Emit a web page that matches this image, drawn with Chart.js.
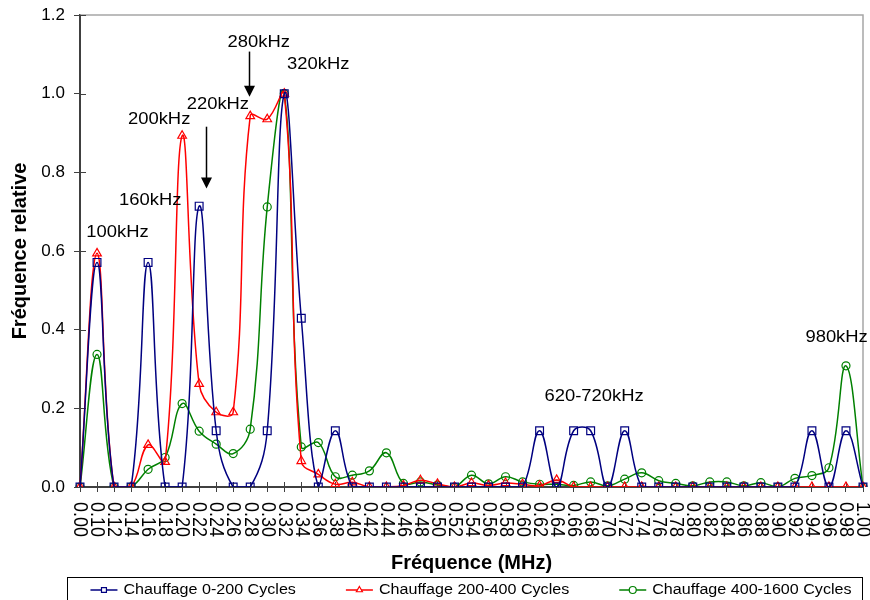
<!DOCTYPE html>
<html>
<head>
  <meta charset="utf-8">
  <title>Fréquence relative</title>
  <script src="https://cdn.jsdelivr.net/npm/chart.js"></script>
  <style>
    body { margin: 0; background: #fff; }
  </style>
</head>
<body>
  <canvas id="freqChart" width="870" height="600"></canvas>

  <script>
    // Fréquences (MHz) en abscisse
    var freqLabels = ["0.00", "0.10", "0.12", "0.14", "0.16", "0.18", "0.20", "0.22", "0.24", "0.26",
      "0.28", "0.30", "0.32", "0.34", "0.36", "0.38", "0.40", "0.42", "0.44", "0.46",
      "0.48", "0.50", "0.52", "0.54", "0.56", "0.58", "0.60", "0.62", "0.64", "0.66",
      "0.68", "0.70", "0.72", "0.74", "0.76", "0.78", "0.80", "0.82", "0.84", "0.86",
      "0.88", "0.90", "0.92", "0.94", "0.96", "0.98", "1.00"];

    var seriesNames = ["Chauffage 0-200 Cycles", "Chauffage 200-400 Cycles", "Chauffage 400-1600 Cycles"];

    var cycles0_200 = [0, 0.571, 0, 0, 0.571, 0, 0, 0.714, 0.143, 0,
      0, 0.143, 1.0, 0.429, 0, 0.143, 0, 0, 0, 0,
      0, 0, 0, 0, 0, 0, 0, 0.143, 0, 0.143,
      0.143, 0, 0.143, 0, 0, 0, 0, 0, 0, 0,
      0, 0, 0, 0.143, 0, 0.143, 0];

    var cycles200_400 = [0, 0.594, 0, 0, 0.107, 0.064, 0.893, 0.262, 0.19, 0.19,
      0.943, 0.935, 1.0, 0.066, 0.032, 0.007, 0.012, 0, 0, 0.004,
      0.017, 0.008, 0, 0.01, 0.004, 0.01, 0.007, 0.003, 0.018, 0,
      0, 0, 0, 0, 0, 0, 0, 0, 0, 0,
      0, 0, 0, 0, 0, 0, 0];

    var cycles400_1600 = [0, 0.337, 0, 0, 0.045, 0.075, 0.212, 0.142, 0.109, 0.085,
      0.147, 0.712, 1.0, 0.102, 0.113, 0.026, 0.030, 0.041, 0.087, 0.009,
      0.013, 0.005, 0, 0.030, 0.008, 0.026, 0.013, 0.007, 0.007, 0.004,
      0.013, 0.003, 0.020, 0.036, 0.016, 0.009, 0.003, 0.013, 0.013, 0.003,
      0.011, 0, 0.022, 0.029, 0.049, 0.308, 0];

    // Repères des pics : texte, indice de catégorie, valeur
    var noteTexts = ["100kHz", "160kHz", "200kHz", "220kHz", "280kHz", "320kHz", "620-720kHz", "980kHz"];
    var noteIdx = [2.2, 4.13, 4.65, 8.1, 10.5, 14.0, 30.2, 44.45];
    var noteVal = [0.647, 0.727, 0.935, 0.971, 1.131, 1.073, 0.231, 0.381];

    // Flèches verticales (indice, valeur de départ, valeur de la pointe)
    var arrowIdx = [7.43, 9.9];
    var arrowFrom = [0.916, 1.107];
    var arrowTo = [0.759, 0.992];

    var FONT = '"Liberation Sans", Arial, sans-serif';
    var STRETCH = 1.15;

    Chart.defaults.font.family = FONT;
    Chart.defaults.color = "#000";

    function wideText(ctx, text, x, y) {
      ctx.save();
      ctx.translate(x, y);
      ctx.scale(STRETCH, 1);
      ctx.fillText(text, 0, 0);
      ctx.restore();
    }

    var decorPlugin = {
      id: "decor",
      beforeDatasetsDraw: function(chart) {
        var ctx = chart.ctx, a = chart.chartArea;
        var xs = chart.scales.x, ys = chart.scales.y;
        ctx.save();
        // cadre gris haut / droite
        ctx.strokeStyle = "#a6a6a6";
        ctx.lineWidth = 1.5;
        ctx.beginPath();
        ctx.moveTo(a.left, a.top);
        ctx.lineTo(a.right, a.top);
        ctx.lineTo(a.right, a.bottom);
        ctx.stroke();
        // axes et graduations côté intérieur
        ctx.strokeStyle = "#404040";
        ctx.lineWidth = 2;
        ctx.beginPath();
        ctx.moveTo(a.left, a.top);
        ctx.lineTo(a.left, a.bottom);
        ctx.lineTo(a.right, a.bottom);
        ctx.stroke();
        ctx.lineWidth = 1;
        ctx.beginPath();
        for (var i = 0; i < freqLabels.length; i++) {
          var px = Math.round(xs.getPixelForValue(i)) + 0.5;
          ctx.moveTo(px, a.bottom);
          ctx.lineTo(px, a.bottom - 5);
        }
        ys.ticks.forEach(function(t) {
          var py = Math.round(ys.getPixelForValue(t.value)) + 0.5;
          ctx.moveTo(a.left, py);
          ctx.lineTo(a.left + 6, py);
        });
        ctx.stroke();
        ctx.restore();
      },
      afterDatasetsDraw: function(chart) {
        var ctx = chart.ctx;
        var xs = chart.scales.x, ys = chart.scales.y;
        ctx.save();
        ctx.fillStyle = "#000";
        ctx.font = "16px " + FONT;
        ctx.textAlign = "center";
        ctx.textBaseline = "middle";
        for (var i = 0; i < noteTexts.length; i++) {
          wideText(ctx, noteTexts[i], xs.getPixelForValue(noteIdx[i]), ys.getPixelForValue(noteVal[i]));
        }
        ctx.strokeStyle = "#000";
        ctx.lineWidth = 1.5;
        for (var k = 0; k < arrowIdx.length; k++) {
          var ax = Math.round(xs.getPixelForValue(arrowIdx[k])) + 0.5;
          var y0 = ys.getPixelForValue(arrowFrom[k]);
          var y1 = ys.getPixelForValue(arrowTo[k]);
          ctx.beginPath();
          ctx.moveTo(ax, y0);
          ctx.lineTo(ax, y1 - 8);
          ctx.stroke();
          ctx.beginPath();
          ctx.moveTo(ax - 5.5, y1 - 11);
          ctx.lineTo(ax + 5.5, y1 - 11);
          ctx.lineTo(ax, y1);
          ctx.closePath();
          ctx.fill();
        }
        ctx.restore();
      },
      afterDraw: function(chart) {
        var ctx = chart.ctx, a = chart.chartArea;
        var xs = chart.scales.x;
        ctx.save();
        // étiquettes de l'axe des fréquences, verticales
        ctx.fillStyle = "#000";
        ctx.font = "18px " + FONT;
        ctx.textAlign = "left";
        ctx.textBaseline = "middle";
        for (var i = 0; i < freqLabels.length; i++) {
          ctx.save();
          ctx.translate(xs.getPixelForValue(i), a.bottom + 15);
          ctx.scale(STRETCH, 1);
          ctx.rotate(Math.PI / 2);
          ctx.fillText(freqLabels[i], 0, 0);
          ctx.restore();
        }

        // légende encadrée
        ctx.font = "14px " + FONT;
        var sym = 27, gap = 6, sep = 50;
        var widths = seriesNames.map(function(n) { return ctx.measureText(n).width * STRETCH; });
        var total = sep * (widths.length - 1);
        widths.forEach(function(w) { total += sym + gap + w; });
        var lx = 471 - total / 2, ly = 590;
        ctx.strokeStyle = "#000";
        ctx.lineWidth = 1;
        ctx.strokeRect(67.5, 577.5, 795, 40);
        chart.data.datasets.forEach(function(ds, k) {
          ctx.strokeStyle = ds.borderColor;
          ctx.lineWidth = 1.5;
          ctx.beginPath();
          ctx.moveTo(lx, ly);
          ctx.lineTo(lx + sym, ly);
          ctx.stroke();
          ctx.fillStyle = "#fff";
          ctx.lineWidth = 1.2;
          if (Chart.helpers && Chart.helpers.drawPoint) {
            Chart.helpers.drawPoint(ctx, { pointStyle: ds.pointStyle, radius: 3.5, borderWidth: 1.2, rotation: 0 }, lx + sym / 2, ly);
          }
          ctx.fillStyle = "#000";
          ctx.textAlign = "left";
          ctx.textBaseline = "middle";
          wideText(ctx, seriesNames[k], lx + sym + gap, ly);
          lx += sym + gap + widths[k] + sep;
        });
        ctx.restore();
      }
    };

    var freqChart = new Chart("freqChart", {
      type: "line",
      data: {
        labels: freqLabels,
        datasets: [{
          label: seriesNames[0],
          data: cycles0_200,
          borderColor: "#000080",
          pointBorderColor: "#000080",
          pointStyle: "rect",
          pointRadius: 5.5
        }, {
          label: seriesNames[1],
          data: cycles200_400,
          borderColor: "#ff0000",
          pointBorderColor: "#ff0000",
          pointStyle: "triangle",
          pointRadius: 5
        }, {
          label: seriesNames[2],
          data: cycles400_1600,
          borderColor: "#008000",
          pointBorderColor: "#008000",
          pointStyle: "circle",
          pointRadius: 4
        }]
      },
      options: {
        responsive: false,
        animation: false,
        events: [],
        layout: { padding: { top: 15, right: 7, left: 0, bottom: 0 } },
        elements: {
          line: { tension: 0.4, borderWidth: 1.5, fill: false },
          point: { borderWidth: 1.2, backgroundColor: "rgba(0,0,0,0)" }
        },
        plugins: {
          legend: { display: false },
          tooltip: { enabled: false }
        },
        scales: {
          x: {
            type: "category",
            offset: false,
            grid: { drawOnChartArea: false, color: "#404040", tickLength: 5 },
            border: { color: "#404040", width: 2 },
            ticks: { display: false },
            title: {
              display: true,
              text: "Fréquence (MHz)",
              font: { size: 20, weight: "bold" },
              padding: { top: 0, bottom: 25 }
            },
            afterFit: function(scale) { scale.height = 113; }
          },
          y: {
            min: 0,
            max: 1.2,
            grid: { drawOnChartArea: false, color: "#404040", tickLength: 6 },
            border: { color: "#404040", width: 2 },
            ticks: {
              stepSize: 0.2,
              padding: 9,
              font: { size: 17 },
              callback: function(v) { return v.toFixed(1); }
            },
            title: {
              display: true,
              text: "Fréquence relative",
              font: { size: 20, weight: "bold" },
              padding: { top: 8, bottom: 0 }
            },
            afterFit: function(scale) {
              scale.width = 80;
              scale.paddingTop = 0;
              scale.paddingBottom = 0;
            }
          }
        }
      },
      plugins: [decorPlugin]
    });
  </script>
</body>
</html>
